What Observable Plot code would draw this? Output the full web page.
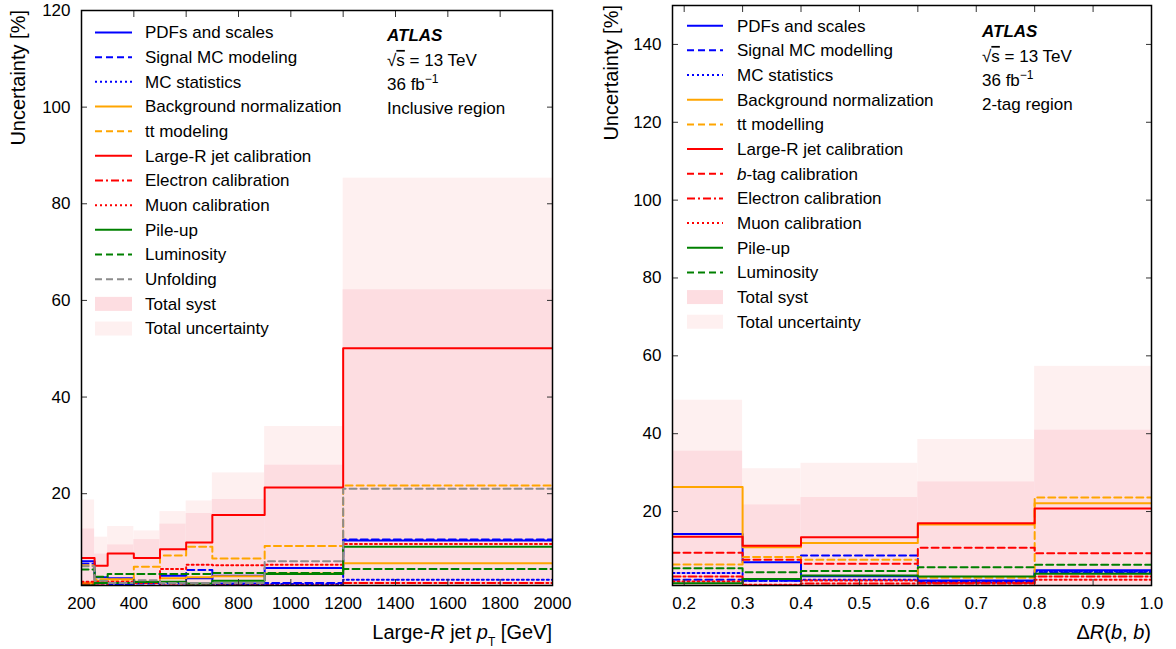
<!DOCTYPE html>
<html><head><meta charset="utf-8">
<script src="https://cdn.jsdelivr.net/npm/d3@7"></script>
<script src="https://cdn.jsdelivr.net/npm/@observablehq/plot@0.6"></script>
<style>
body{margin:0;background:#fff;}
#wrap{position:relative;width:1176px;height:649px;font-family:"Liberation Sans",Arial,sans-serif;}
#left,#right{position:absolute;top:0;}
#left{left:0px;}
#right{left:590px;}
</style></head><body><div id="wrap"><div id="left"></div><div id="right"></div></div>
<script>
// ---------- Left panel: Large-R jet pT (inclusive region) ----------
const ptEdges   = [200, 250, 300, 400, 500, 600, 700, 900, 1200, 2000];
const ptPDF      = [6.0, 2.7, 2.5, 1.5, 3.0, 2.5, 3.0, 4.6, 10.3];
const ptSignalMC = [5.5, 1.5, 1.2, 1.0, 1.5, 4.2, 1.4, 1.5, 10.5];
const ptMCStat   = [1.0, 1.0, 1.2, 0.8, 1.0, 1.0, 1.2, 1.3, 2.2];
const ptBkgNorm  = [1.5, 2.0, 2.3, 1.8, 2.5, 2.7, 2.9, 3.5, 5.6];
const ptTtbar    = [5.2, 2.3, 2.2, 4.9, 7.2, 9.0, 6.6, 9.2, 21.7];
const ptLargeR   = [6.7, 5.1, 7.6, 6.7, 8.5, 9.9, 15.6, 21.3, 50.1];
const ptElectron = [1.2, 1.0, 1.5, 0.8, 1.0, 1.0, 1.0, 1.0, 1.5];
const ptMuon     = [1.8, 1.8, 1.8, 1.5, 4.4, 5.3, 5.2, 5.3, 9.6];
const ptPileup   = [1.0, 1.5, 1.5, 1.7, 1.8, 1.4, 2.0, 3.4, 9.0];
const ptLumi     = [4.3, 2.8, 3.4, 3.4, 3.4, 3.4, 3.6, 3.6, 4.4];
const ptUnfold   = [5.0, 2.0, 1.5, 2.1, 1.5, 1.5, 1.5, 6.0, 21.0];
const ptSyst     = [12.7, 7.5, 9.4, 10.5, 13.7, 15.9, 18.8, 25.9, 62.2];
const ptTotal    = [18.7, 11.0, 13.2, 12.3, 16.3, 18.5, 24.3, 33.9, 85.3];
const ptXTicks = [200, 400, 600, 800, 1000, 1200, 1400, 1600, 1800, 2000];
const ptYTicks = [20, 40, 60, 80, 100, 120];

// ---------- Right panel: DeltaR(b,b) (2-tag region) ----------
const drEdges    = [0.18, 0.3, 0.4, 0.6, 0.8, 1.0];
const drPDF      = [14.2, 7.0, 3.4, 2.3, 4.9];
const drSignalMC = [2.5, 2.2, 8.7, 2.0, 4.4];
const drMCStat   = [4.2, 2.2, 2.5, 1.8, 4.6];
const drBkgNorm  = [26.3, 10.8, 11.9, 16.7, 22.1];
const drTtbar    = [6.4, 8.3, 7.6, 3.0, 23.6];
const drLargeR   = [13.5, 11.2, 13.4, 17.0, 20.8];
const drBtag     = [9.4, 7.6, 6.6, 10.7, 9.3];
const drElectron = [3.3, 1.0, 1.5, 1.5, 3.3];
const drMuon     = [2.0, 1.2, 2.3, 1.7, 2.5];
const drPileup   = [1.6, 2.7, 3.6, 3.3, 4.0];
const drLumi     = [5.4, 4.4, 4.7, 5.7, 6.3];
const drSyst     = [35.5, 21.7, 23.6, 27.6, 40.9];
const drTotal    = [48.6, 31.0, 32.4, 38.5, 57.3];
const drXTicks = [0.2, 0.3, 0.4, 0.5, 0.6, 0.7, 0.8, 0.9, 1.0];
const drYTicks = [20, 40, 60, 80, 100, 120, 140];

const BLUE = "#0000ff", ORANGE = "#ffa500", RED = "#ff0000", GREEN = "#008000", GRAY = "#8c8c8c";
const SYST = "rgb(253,221,225)", TOT = "rgb(254,240,240)";
const DASH = "7,4", DOT = "2,3", DASHDOT = "8,3,2,3";

const leftSeries = [
  {label: [["PDFs and scales"]], v: ptPDF, c: BLUE, d: null},
  {label: [["Signal MC modeling"]], v: ptSignalMC, c: BLUE, d: DASH},
  {label: [["MC statistics"]], v: ptMCStat, c: BLUE, d: DOT},
  {label: [["Background normalization"]], v: ptBkgNorm, c: ORANGE, d: null},
  {label: [["tt modeling"]], v: ptTtbar, c: ORANGE, d: DASH},
  {label: [["Large-R jet calibration"]], v: ptLargeR, c: RED, d: null},
  {label: [["Electron calibration"]], v: ptElectron, c: RED, d: DASHDOT},
  {label: [["Muon calibration"]], v: ptMuon, c: RED, d: DOT},
  {label: [["Pile-up"]], v: ptPileup, c: GREEN, d: null},
  {label: [["Luminosity"]], v: ptLumi, c: GREEN, d: DASH},
  {label: [["Unfolding"]], v: ptUnfold, c: GRAY, d: DASH}
];
const rightSeries = [
  {label: [["PDFs and scales"]], v: drPDF, c: BLUE, d: null},
  {label: [["Signal MC modelling"]], v: drSignalMC, c: BLUE, d: DASH},
  {label: [["MC statistics"]], v: drMCStat, c: BLUE, d: DOT},
  {label: [["Background normalization"]], v: drBkgNorm, c: ORANGE, d: null},
  {label: [["tt modelling"]], v: drTtbar, c: ORANGE, d: DASH},
  {label: [["Large-R jet calibration"]], v: drLargeR, c: RED, d: null},
  {label: [["b", "italic"], ["-tag calibration"]], v: drBtag, c: RED, d: DASH},
  {label: [["Electron calibration"]], v: drElectron, c: RED, d: DASHDOT},
  {label: [["Muon calibration"]], v: drMuon, c: RED, d: DOT},
  {label: [["Pile-up"]], v: drPileup, c: GREEN, d: null},
  {label: [["Luminosity"]], v: drLumi, c: GREEN, d: DASH}
];

function steps(edges, vals) {
  const pts = vals.map((v, i) => ({x: edges[i], y: v}));
  pts.push({x: edges[edges.length - 1], y: vals[vals.length - 1]});
  return pts;
}
function bins(edges, vals) {
  return vals.map((v, i) => ({x1: edges[i], x2: edges[i + 1], y: v}));
}

function addText(sel, segs) {
  segs.forEach(([t, st]) => {
    const ts = sel.append("tspan").text(t);
    if (st === "italic") ts.attr("font-style", "italic");
    if (st === "sub") ts.attr("baseline-shift", "sub").attr("font-size", "12px");
    if (st === "sup") ts.attr("baseline-shift", "super").attr("font-size", "12px");
    if (st === "over") ts.style("text-decoration", "overline");
  });
}

function makePanel(cfg) {
  const yMin = 1;
  const marks = [
    Plot.rectY(bins(cfg.edges, cfg.total), {x1: "x1", x2: "x2", y1: yMin, y2: "y", fill: TOT}),
    Plot.rectY(bins(cfg.edges, cfg.syst), {x1: "x1", x2: "x2", y1: yMin, y2: "y", fill: SYST}),
    ...cfg.series.map(s => Plot.line(steps(cfg.edges, s.v), {
      x: "x", y: "y", curve: "step-after", stroke: s.c, strokeWidth: 2,
      strokeDasharray: s.d ?? undefined, clip: true
    })),
    Plot.axisX({anchor: "bottom", ticks: cfg.xTicks, tickSize: 0, tickPadding: 11, tickFormat: cfg.xFormat, fontSize: 17, label: null}),
    Plot.axisX({anchor: "bottom", ticks: cfg.xTicks, tickSize: -6, tickFormat: () => "", stroke: "#333", label: null}),
    Plot.axisX({anchor: "top", ticks: cfg.xTicks, tickSize: -6, tickFormat: () => "", stroke: "#333", label: null}),
    Plot.axisY({anchor: "left", ticks: cfg.yTicks, tickSize: 0, tickPadding: 11, fontSize: 17, label: null}),
    Plot.axisY({anchor: "left", ticks: cfg.yTicks, tickSize: -6, tickFormat: () => "", stroke: "#333", label: null}),
    Plot.axisY({anchor: "right", ticks: cfg.yTicks, tickSize: -6, tickFormat: () => "", stroke: "#333", label: null}),
    Plot.frame({stroke: "black", strokeWidth: 1.5})
  ];
  const svg = Plot.plot({
    width: cfg.width, height: 649,
    marginLeft: cfg.ml, marginRight: cfg.mr, marginTop: cfg.mt, marginBottom: 64,
    x: {domain: cfg.xDomain},
    y: {domain: [yMin, cfg.yMax]},
    style: {fontFamily: '"Liberation Sans", Arial, sans-serif', fontSize: "17px", color: "black", background: "white"},
    marks
  });
  const s = d3.select(svg);
  // legend
  const g = s.append("g").attr("font-size", 17).attr("fill", "black").attr("text-anchor", "start");
  const items = [...cfg.series, {label: [["Total syst"]], fill: SYST}, {label: [["Total uncertainty"]], fill: TOT}];
  items.forEach((it, i) => {
    const y = cfg.legY + i * 24.67;
    if (it.fill) {
      g.append("rect").attr("x", cfg.legX0).attr("y", y - 7).attr("width", cfg.legX1 - cfg.legX0).attr("height", 14).attr("fill", it.fill);
    } else {
      g.append("line").attr("x1", cfg.legX0).attr("x2", cfg.legX1).attr("y1", y).attr("y2", y)
        .attr("stroke", it.c).attr("stroke-width", 2).attr("stroke-dasharray", it.d);
    }
    addText(g.append("text").attr("x", cfg.legXT).attr("y", y).attr("dy", "0.35em"), it.label);
  });
  // ATLAS block
  const a = s.append("g").attr("font-size", 17).attr("text-anchor", "start");
  a.append("text").attr("x", cfg.atlasX).attr("y", cfg.atlasY).attr("dy", "0.35em")
    .attr("font-weight", "bold").attr("font-style", "italic").text("ATLAS");
  addText(a.append("text").attr("x", cfg.atlasX).attr("y", cfg.atlasY + 25).attr("dy", "0.35em"), [["√"], ["s", "over"], [" = 13 TeV"]]);
  addText(a.append("text").attr("x", cfg.atlasX).attr("y", cfg.atlasY + 49).attr("dy", "0.35em"), [["36 fb"], ["−1", "sup"]]);
  a.append("text").attr("x", cfg.atlasX).attr("y", cfg.atlasY + 73).attr("dy", "0.35em").text(cfg.region);
  // axis labels
  s.append("text").attr("transform", `translate(${cfg.ylabX},${cfg.mt}) rotate(-90)`)
    .attr("text-anchor", "end").attr("dy", "0.35em").attr("font-size", 20).text("Uncertainty [%]");
  addText(s.append("text").attr("x", cfg.width - cfg.mr).attr("y", 632).attr("dy", "0.35em")
    .attr("text-anchor", "end").attr("font-size", 20), cfg.xlabel);
  return svg;
}

document.getElementById("left").appendChild(makePanel({
  width: 580, ml: 81, mr: 28, mt: 10,
  edges: ptEdges, series: leftSeries, syst: ptSyst, total: ptTotal,
  xDomain: [200, 2000], yMax: 120, xTicks: ptXTicks, yTicks: ptYTicks, xFormat: d3.format("d"),
  legX0: 95, legX1: 132, legXT: 145, legY: 32.5,
  atlasX: 387, atlasY: 35, region: "Inclusive region", ylabX: 18,
  xlabel: [["Large-"], ["R", "italic"], [" jet "], ["p", "italic"], ["T", "sub"], [" [GeV]"]]
}));
document.getElementById("right").appendChild(makePanel({
  width: 586, ml: 82, mr: 25, mt: 5,
  edges: drEdges, series: rightSeries, syst: drSyst, total: drTotal,
  xDomain: [0.18, 1.0], yMax: 150, xTicks: drXTicks, yTicks: drYTicks, xFormat: d3.format(".1f"),
  legX0: 97, legX1: 133, legXT: 147, legY: 25.7,
  atlasX: 392, atlasY: 31, region: "2-tag region", ylabX: 21,
  xlabel: [["Δ"], ["R", "italic"], ["("], ["b", "italic"], [", "], ["b", "italic"], [")"]]
}));
</script></body></html>
